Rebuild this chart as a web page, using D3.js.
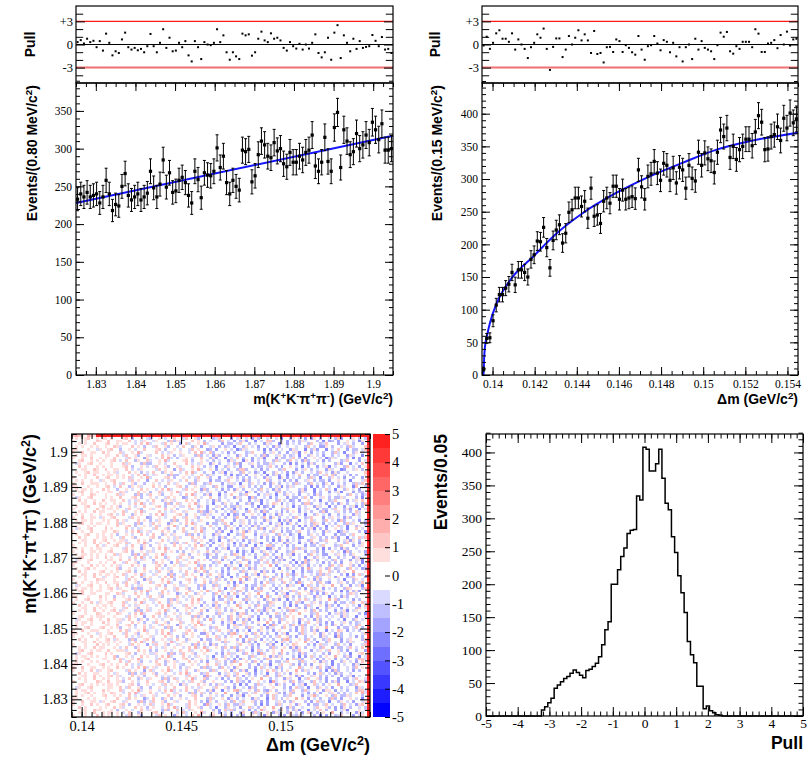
<!DOCTYPE html>
<html>
<head>
<meta charset="utf-8">
<script src="https://cdn.jsdelivr.net/npm/d3@7"></script>
<style>
  body { margin: 0; background: #fff; }
  .title { font-family: "Liberation Sans", Arial, sans-serif; font-weight: bold; }
  .tk text { font-family: "Liberation Serif", "Times New Roman", "DejaVu Serif", serif; }
</style>
</head>
<body>
<div id="chart"></div>
<script>
// ---- data ----
const massTicks = [1.83, 1.84, 1.85, 1.86, 1.87, 1.88, 1.89, 1.9];
const dmTicks = [0.14, 0.142, 0.144, 0.146, 0.148, 0.15, 0.152, 0.154];
const dmTicks2D = [0.14, 0.145, 0.15];
const countTicksTL = [0, 50, 100, 150, 200, 250, 300, 350];
const countTicks = [0, 50, 100, 150, 200, 250, 300, 350, 400];
const pullTicks = [-3, 0, 3];
const pullAxisTicks = [-5, -4, -3, -2, -1, 0, 1, 2, 3, 4, 5];
const zTicks = [-5, -4, -3, -2, -1, 0, 1, 2, 3, 4, 5];

// m(KKpipi) projection, 100 bins of 0.8 MeV from 1.825
const massCounts = [
  233, 240, 236, 242, 236, 238, 240, 228, 236, 258,
  240, 218, 226, 224, 250, 267, 238, 232, 236, 240,
  232, 236, 241, 270, 248, 236, 253, 285, 249, 268,
  242, 244, 258, 262, 255, 238, 228, 270, 259, 235,
  268, 265, 264, 270, 301, 275, 290, 255, 240, 258,
  250, 245, 298, 296, 299, 256, 264, 292, 310, 305,
  290, 288, 308, 297, 300, 280, 276, 295, 282, 282,
  290, 285, 295, 298, 318, 277, 270, 282, 315, 283,
  270, 328, 348, 275, 325, 310, 292, 296, 320, 300,
  305, 318, 308, 335, 325, 312, 333, 298, 298, 300
];
const massFitX = [1.825, 1.905];
const massFitY = [228, 317];
const massPull = [
  0.31, 0.57, 0.13, 0.75, 0.31, 0.48, -0.35, 0.44, -0.79, 1.41,
  0.22, -1.41, -0.88, -1.10, 0.66, 1.54, -0.35, -0.66, -0.44, -0.75,
  -0.57, -1.01, -0.22, 1.37, -0.22, -1.01, 0.22, 1.98, -0.44, 0.88,
  -0.88, -0.79, 0.22, -0.35, 0.44, -1.41, -2.20, 0.44, -0.35, -1.89,
  0.31, 0.00, -0.09, 0.22, 1.98, 0.31, 1.19, -1.01, -1.98, -1.01,
  -1.54, -1.89, 1.41, 1.19, 1.32, -1.45, -1.01, 0.75, 1.67, 0.53,
  0.31, 1.45, 0.75, 0.88, 0.53, -0.44, -0.79, 0.31, -0.22, -0.53,
  0.09, -0.66, 0.00, -0.53, 0.22, 1.32, -1.10, -1.67, -1.01, 0.88,
  -1.98, 1.54, 2.51, -1.76, 1.19, 0.22, -0.88, 0.75, -0.57, 0.44,
  -0.44, -0.31, -0.22, 1.23, 0.48, -0.22, 0.97, -0.66, -0.57, -1.10
];

// delta-m projection, 100 bins of 0.15 MeV from 0.1395
const dmCounts = [
  9, 56, 57, 83, 107, 123, 123, 133, 139, 157,
  138, 161, 161, 157, 150, 177, 184, 205, 204, 226,
  195, 164, 206, 222, 230, 202, 217, 249, 253, 271,
  271, 258, 266, 240, 286, 243, 245, 232, 266, 271,
  263, 289, 289, 269, 283, 269, 271, 273, 270, 314,
  288, 269, 304, 308, 327, 309, 298, 324, 321, 298,
  317, 294, 318, 314, 286, 321, 301, 297, 341, 321,
  340, 331, 328, 310, 341, 375, 365, 378, 333, 350,
  330, 345, 350, 361, 361, 351, 372, 397, 387, 345,
  346, 365, 368, 380, 359, 393, 378, 401, 386, 392
];
const dmFitX = [0.13957, 0.1396, 0.13964, 0.13975, 0.13988, 0.1402, 0.14083, 0.14192,
  0.14305, 0.14429, 0.14589, 0.14747, 0.14904, 0.15064, 0.15222, 0.1545];
const dmFitY = [0, 25, 43, 62, 80, 110, 145, 181, 217, 248, 279, 304, 325, 345, 358, 371];
const dmPull = [
  -0.13, 1.01, -0.57, 0.22, 1.45, 1.85, 0.75, 0.75, 0.35, 1.45,
  -0.66, 0.66, 0.00, -0.57, -1.76, -0.35, 0.22, 1.32, 0.88, 2.07,
  -0.57, -3.30, -0.31, 0.79, 0.79, -1.63, -0.66, 1.10, 0.00, 0.88,
  1.85, 0.53, 1.32, 0.53, -1.10, 1.76, -1.23, -1.10, -2.33, -0.35,
  -0.31, -0.97, 0.66, 0.44, -0.97, -0.09, -0.44, -1.01, -1.32, 1.10,
  -0.66, -1.98, -0.22, -0.09, 1.10, 0.13, -0.75, 0.57, 0.35, -1.01,
  0.22, -1.54, -0.35, -2.20, -0.35, 0.00, -1.89, 0.75, -0.66, 0.44,
  -0.44, -0.66, -0.88, -1.89, -0.09, 1.54, 1.01, 1.63, -0.88, -1.19,
  -0.22, -0.57, 0.35, 0.35, 0.35, -0.35, 1.98, 1.41, -0.97, -0.97,
  0.13, 0.22, 0.57, -0.48, 1.23, 0.00, 1.67, -0.13, 0.66, 0.75
];

// pull distribution, bins of 0.1 starting at -3.2
const histFirst = -3.2;
const histCounts = [
  9, 14, 20, 27, 42, 47, 52, 57, 60, 65,
  70, 66, 62, 58, 69, 71, 75, 80, 90, 108,
  131, 143, 200, 200, 222, 242, 255, 277, 282, 283,
  334, 328, 408, 405, 372, 372, 383, 405, 361, 323,
  313, 272, 248, 213, 187, 157, 113, 93, 81, 45,
  45, 11, 15, 8, 5, 2, 1
];

// 2D pull map. Cell codes: '0' = |pull|<0.5, '1'..'9' = +0.5 steps, 'a'..'i' = -0.5 steps.
// Texture pieces and the hand-picked sequence of pieces for every row (top row first).
const heatWords = {
  L1: "0100120", L2: "10020011", L3: "001010020", L4: "1001002", L5: "01011010", L6: "100010002",
  L7: "0020100", L8: "01010010", L9: "001200101", L10: "1100010", L11: "00011002", L12: "0a1001200",
  P1: "0a2001b00", P2: "100a0203a0", P3: "00120b0010a", P4: "a0200b10", P5: "0020a0a100",
  P6: "1a0002010b0", P7: "00a20100c", P8: "b0010a0020", P9: "02a00103a00", P10: "a1000b2b",
  B1: "0b1c00d0a02", B2: "c00a10b0b", B3: "00ba2000c0a1", B4: "b0c0010a0d", B5: "c10b00a0b2",
  B6: "0b0a00c1a00d", B7: "a00b20a0c", B8: "10c0a0b00b2", B9: "0a0c1b00a00", B10: "b1a000b0d0c",
  B11: "00c0bb0a20", B12: "a0d00b10a0c0", B13: "2b00a0c0b0", B14: "0b00c0a1d0",
  Q1: "02a0b010030", Q2: "1000b0c02a", Q3: "0a2001b0c0", Q4: "3a0010b20b", Q5: "00b2a0010c1"
};
const heatTop = "2321032199999999999999999999999999999999999999999999999999999999999999999999999999999999999999999999";
const heatRows = [
  "L1 L5 P3 P8 P1 B3 B9 B12 B5 B2", "L6 L2 P5 P10 P6 B7 B1 B13 B10 B4", "L3 L9 P2 P7 P9 B11 B6 B8 B3 B14",
  "L8 L4 P6 P1 P4 B2 B12 B9 B7 B5", "L10 L12 P8 P3 P7 B4 B10 B6 B1 B11", "L2 L7 P9 P5 P2 B13 B3 B14 B8 B12",
  "L5 L11 P1 P6 P10 B9 B5 B2 B12 B6", "L4 L3 P7 P2 P8 B1 B14 B11 B4 B10", "L9 L1 P4 P9 P3 B6 B8 B7 B13 B3",
  "L12 L6 P10 P8 P5 B5 B2 B10 B9 B1", "L7 L8 P3 P1 P6 B12 B11 B4 B14 B7", "L11 L2 P5 P7 P9 B8 B13 B3 B6 B2",
  "L1 L10 P6 P4 P2 B14 B7 B12 B5 B9", "L3 L5 P2 P10 P8 B10 B4 B1 B11 B13", "L6 L9 P9 P3 P1 B2 B6 B8 B12 B14",
  "L8 L12 P7 P5 P4 B11 B9 B13 B2 B4", "L2 L4 P1 P8 P10 B3 B12 B5 B7 B8", "L10 L1 P4 P6 P3 B7 B2 B14 B10 B6",
  "L5 L7 P8 P2 P7 B13 B5 B9 B1 B12", "L9 L11 P6 P9 P5 B4 B8 B6 B14 B11", "L4 L6 P10 P1 P2 B1 B3 B12 B9 B7",
  "L12 L3 P3 P7 P8 B6 B13 B11 B2 B10", "L7 L2 P5 P4 P6 B9 B14 B7 B4 B3", "L11 L8 P2 P10 P9 B12 B1 B8 B13 B5",
  "L1 L9 P8 P3 P4 B2 B10 B4 B6 B14", "L6 L5 P1 P6 P7 B14 B12 B3 B11 B1", "L3 L10 P9 P5 P10 B5 B7 B13 B8 B2",
  "L8 L1 P4 P2 P3 B10 B4 B9 B12 B6", "L2 L12 P7 P8 P1 B8 B11 B5 B3 B9", "L5 L3 P6 P10 P5 B3 B6 B1 B7 B13",
  "L9 L4 P10 P7 P2 B11 B2 B14 B5 B8", "L10 L6 P3 P9 P8 B7 B9 B10 B1 B12", "L12 L7 P5 P1 P4 B13 B8 B2 B14 B4",
  "L4 L11 P2 P6 P9 B1 B5 B11 B6 B10", "L1 L8 P8 P4 P10 B6 B3 B7 B12 B11", "L7 L5 P1 P3 P6 B9 B13 B4 B2 B1",
  "L11 L9 P6 P5 P7 B12 B10 B8 B3 B5", "L3 L2 P9 P10 P1 B4 B14 B6 B9 B7", "L6 L12 P4 P8 P2 B2 B1 B13 B11 B3",
  "L8 L10 P7 P2 P5 B14 B6 B5 B10 B9", "L2 L1 P3 P6 P8 B10 B12 B3 B4 B13", "L5 L4 P10 P9 P3 B5 B8 B14 B7 B2",
  "L9 L7 P2 P4 P1 B11 B3 B9 B12 B6", "L12 L11 P5 P8 P6 B8 B7 B1 B5 B14", "L10 L3 P1 P7 P9 B3 B11 B10 B13 B4",
  "L4 L8 P6 P3 P10 B6 Q1 B2 B8 Q3", "L1 L6 P8 P5 P2 Q2 B9 B12 Q4 B7", "L7 L9 P3 P1 P4 B13 Q5 B4 B11 Q1",
  "L11 L5 P9 P10 P7 Q3 B14 Q2 B5 B10", "L3 L12 P4 P2 P6 B1 Q4 B8 Q5 B3", "L6 L10 P7 P6 P3 Q1 B5 Q3 B9 B12",
  "L8 L2 P1 P9 P8 B10 Q2 B7 Q4 B2", "L12 L4 P5 P3 P10 Q5 B11 B6 Q1 B14", "L5 L1 P10 P8 P1 B4 Q3 B13 Q2 B8",
  "L9 L6 P2 P5 P9 Q4 B3 Q5 B10 B1", "L2 L11 P6 P7 P4 B7 Q1 B14 Q3 B5", "L10 L7 P8 P1 P5 Q2 B12 Q4 B6 B9",
  "L1 L3 P3 P10 P2 B11 Q5 B1 Q1 B13", "L4 L12 P9 P4 P6 Q3 B8 Q2 B2 B11", "L7 L5 P5 P2 P7 B9 Q4 B10 Q5 B4",
  "L11 L8 P1 P6 P3 Q1 B6 Q3 B12 B7", "L3 L1 P10 P9 P8 B2 Q2 B5 Q4 B14", "L6 L4 P2 P3 P1 Q5 B13 Q1 B3 B10",
  "L9 L10 P7 P5 P10 B8 Q3 B11 Q2 B6", "L12 L2 P4 P8 P6 Q4 B1 Q5 B9 B12", "L5 L7 P6 P1 P9 B14 Q1 B4 Q3 B2",
  "L8 L11 P3 P7 P2 Q2 B10 Q4 B13 B5", "L1 L9 P8 P10 P5 B3 Q5 B7 Q1 B11", "L2 L6 P9 P4 P3 Q3 B12 Q2 B1 B8",
  "L10 L12 P1 P2 P7 B5 Q4 B14 Q5 B9", "L4 L3 P5 P6 P8 Q1 B2 Q3 B6 B13", "L7 L1 P10 P3 P4 B11 Q2 B8 Q4 B3",
  "L11 L5 P2 P9 P6 Q5 B4 Q1 B12 B10", "L6 L8 P7 P1 P10 B9 Q3 B1 Q2 B7", "L3 L10 P4 P5 P2 Q4 B13 Q5 B5 B11",
  "L9 L2 P6 P8 P9 B6 Q1 B3 Q3 B14", "L12 L7 P3 P10 P1 Q2 B7 Q4 B9 B4", "L5 L4 P8 P2 P5 B12 Q5 B10 Q1 B1",
  "L1 L11 P9 P7 P3 Q3 B5 Q2 B13 B8", "L8 L6 P1 P4 P6 B2 Q4 B11 Q5 B12", "L10 L9 P5 P3 P8 Q1 B14 Q3 B4 B6",
  "L2 L3 P2 P6 P10 B7 Q2 B9 Q4 B5", "L4 L12 P7 P9 P4 Q5 B1 Q1 B10 B13", "L7 L10 P10 P1 P2 B3 Q3 B12 Q2 B9",
  "L11 L1 P6 P5 P7 Q4 B8 Q5 B2 B14", "L3 L8 P4 P10 P9 B13 Q1 B6 Q3 B11", "L6 L2 P8 P3 P1 Q2 B4 Q4 B7 B1",
  "L9 L5 P3 P7 P6 B10 Q5 B14 Q1 B3", "L12 L11 P1 P8 P5 Q3 B9 Q2 B12 B6", "L5 L7 P9 P2 P4 B1 Q4 B5 Q5 B8",
  "L1 L4 P2 P5 P10 Q1 B11 Q3 B13 B2", "L8 L9 P5 P6 P3 B14 Q2 B3 Q4 B10", "L10 L6 P7 P4 P8 Q5 B6 Q1 B8 B4",
  "L2 L12 P10 P1 P6 B5 Q3 B2 Q2 B12", "L4 L1 P3 P9 P7 Q4 B10 Q5 B11 B7", "L7 L3 P6 P2 P1 B12 Q1 B9 Q3 B5",
  "L11 L10 P8 P10 P5 Q2 B13 Q4 B1 B14", "L3 L5 P4 P3 P9 B8 Q5 B7 Q1 B6", "L6 L8 P1 P7 P2 Q3 B4 Q2 B10 B3"
];
const heatEdge = "9999899999999999989999999999999998999999999999999999899999999999999999999999989999999999999999999999";

// ---- layout ----
const W = 808, H = 758;
const serif = '"Liberation Serif", "Times New Roman", "DejaVu Serif", serif';
const svg = d3.select("#chart").append("svg").attr("width", W).attr("height", H)
  .style("background", "#fff");

function ticks(g, axisFn, scale, values, len, pos, fmt, pad, font) {
  const horiz = axisFn === d3.axisBottom || axisFn === d3.axisTop;
  const a = g.append("g").attr("class", "tk")
    .attr("transform", horiz ? `translate(0,${pos})` : `translate(${pos},0)`)
    .call(axisFn(scale).tickValues(values).tickSize(-len).tickPadding(pad || 3)
      .tickFormat(fmt || (() => "")));
  a.attr("font-family", serif).attr("font-size", font || 12);
  a.select(".domain").remove();
  a.selectAll("line").attr("stroke", "#000").attr("stroke-width", 1);
  a.selectAll("text").attr("fill", "#000").attr("font-family", serif);
  return a;
}

function box(g, x, y, o) {
  const [x0, x1] = x.range(), [y0, y1] = y.range();
  if (o.xMajor) {
    ticks(g, d3.axisBottom, x, o.xMinor, o.xLen * 0.5, y0);
    ticks(g, d3.axisBottom, x, o.xMajor, o.xLen, y0, o.xFmt, o.xPad, o.font);
    ticks(g, d3.axisTop, x, o.xMinor, o.xLen * 0.5, y1);
    ticks(g, d3.axisTop, x, o.xMajor, o.xLen, y1);
  }
  ticks(g, d3.axisLeft, y, o.yMinor, o.yLen * (o.yMinorFrac || 0.5), x0);
  ticks(g, d3.axisLeft, y, o.yMajor, o.yLen, x0, o.yFmt, o.yPad, o.font);
  ticks(g, d3.axisRight, y, o.yMinor, o.yLen * (o.yMinorFrac || 0.5), x1);
  ticks(g, d3.axisRight, y, o.yMajor, o.yLen, x1);
  g.append("rect").attr("x", x0).attr("y", y1).attr("width", x1 - x0).attr("height", y0 - y1)
    .attr("fill", "none").attr("stroke", "#000").attr("stroke-width", 1.2);
}

// text with superscripts: segs = [[text, isSup], ...]
function rich(sel, segs) {
  let up = false;
  segs.forEach(([t, sup]) => {
    const ts = sel.append("tspan").text(t);
    if (sup && !up) { ts.attr("dy", "-0.5em").style("font-size", "70%"); up = true; }
    else if (sup) { ts.style("font-size", "70%"); }
    else if (up) { ts.attr("dy", "0.35em"); up = false; }
  });
  return sel;
}
const massTitle = [["m(K", 0], ["+", 1], ["K", 0], ["-", 1], ["\u03c0", 0], ["+", 1], ["\u03c0", 0], ["-", 1], [") (GeV/c", 0], ["2", 1], [")", 0]];
const dmTitle = [["\u0394m (GeV/c", 0], ["2", 1], [")", 0]];

function xTitle(g, segs, x, y, size) {
  rich(g.append("text").attr("class", "title").attr("x", x).attr("y", y)
    .attr("text-anchor", "end").style("font-size", size + "px"), segs);
}
function yTitle(g, segs, x, y, size, anchor) {
  rich(g.append("text").attr("class", "title")
    .attr("transform", `translate(${x},${y}) rotate(-90)`)
    .attr("text-anchor", anchor || "end").style("font-size", size + "px"), segs);
}

const step = (a, b, s) => d3.range(a, b + s / 2, s);
const fmtPull = d => (d > 0 ? "+" + d : String(d));

// ---- fit panel: pull pad on top, data pad below ----
function fitPanel(o) {
  const g = svg.append("g");
  const x = d3.scaleLinear().domain(o.xDomain).range([o.x0, o.x1]);
  const yp = d3.scaleLinear().domain([-5, 5]).range([o.ySplit, o.yTop]);
  const y = d3.scaleLinear().domain([0, o.yMax]).range([o.yBot, o.ySplit]);
  const bw = (o.xDomain[1] - o.xDomain[0]) / o.counts.length;
  const cx = i => x(o.xDomain[0] + bw * (i + 0.5));

  const gp = g.append("g");
  gp.append("line").attr("x1", o.x0).attr("x2", o.x1).attr("y1", yp(3)).attr("y2", yp(3))
    .attr("stroke", "#ff1a1a").attr("stroke-width", 1.2);
  gp.append("line").attr("x1", o.x0).attr("x2", o.x1).attr("y1", yp(-3)).attr("y2", yp(-3))
    .attr("stroke", "#ee7070").attr("stroke-width", 2);
  gp.append("line").attr("x1", o.x0).attr("x2", o.x1).attr("y1", yp(0)).attr("y2", yp(0))
    .attr("stroke", "#000").attr("stroke-width", 1);
  gp.selectAll("rect.p").data(o.pull).enter().append("rect").attr("class", "p")
    .attr("x", (d, i) => cx(i) - 1).attr("y", d => yp(d) - 1)
    .attr("width", 2).attr("height", 2).attr("fill", "#000");
  box(gp, x, yp, {
    yMajor: pullTicks, yMinor: [-4, -2, -1, 1, 2, 4], yLen: 9, yMinorFrac: 0.8,
    yFmt: fmtPull, yPad: 3, font: 12.5
  });
  yTitle(gp, [["Pull", 0]], o.titleX - 2, (o.yTop + o.ySplit) / 2, 14, "middle");

  const gd = g.append("g");
  const line = d3.line().x(d => x(d[0])).y(d => y(d[1])).curve(d3.curveMonotoneX);
  gd.append("path").datum(d3.zip(o.fitX, o.fitY)).attr("d", line)
    .attr("fill", "none").attr("stroke", "#1414ff").attr("stroke-width", 2);
  const pts = gd.selectAll("g.pt").data(o.counts).enter().append("g").attr("class", "pt");
  pts.append("line").attr("x1", (d, i) => cx(i)).attr("x2", (d, i) => cx(i))
    .attr("y1", d => y(d + Math.sqrt(d))).attr("y2", d => y(Math.max(0, d - Math.sqrt(d))))
    .attr("stroke", "#000").attr("stroke-width", 1);
  [1, -1].forEach(s => {
    pts.append("line").attr("x1", (d, i) => cx(i) - 1.5).attr("x2", (d, i) => cx(i) + 1.5)
      .attr("y1", d => y(Math.max(0, d + s * Math.sqrt(d))))
      .attr("y2", d => y(Math.max(0, d + s * Math.sqrt(d))))
      .attr("stroke", "#000").attr("stroke-width", 1);
  });
  pts.append("rect").attr("x", (d, i) => cx(i) - 1.6).attr("y", d => y(d) - 1.6)
    .attr("width", 3.2).attr("height", 3.2).attr("fill", "#000");
  box(gd, x, y, {
    xMajor: o.xTicks, xMinor: o.xMinor, xLen: 8, xFmt: String, xPad: 5,
    yMajor: o.yTicks, yMinor: step(0, o.yMax, 10), yLen: 8, yFmt: String, yPad: 4, font: 11.5
  });
  yTitle(gd, o.yTitle, o.titleX, o.ySplit + 2, 14);
  xTitle(gd, o.xTitle, o.x1, 404, 14);
}

fitPanel({
  x0: 76, x1: 393, yTop: 6, ySplit: 83, yBot: 375, yMax: 387, titleX: 37,
  xDomain: [1.825, 1.905], xTicks: massTicks, xMinor: step(1.825, 1.905, 0.0025),
  yTicks: countTicksTL, counts: massCounts, pull: massPull, fitX: massFitX, fitY: massFitY,
  yTitle: [["Events/(0.80 MeV/c", 0], ["2", 1], [")", 0]], xTitle: massTitle
});
fitPanel({
  x0: 482, x1: 798, yTop: 6, ySplit: 83, yBot: 375, yMax: 447, titleX: 442,
  xDomain: [0.1395, 0.1545], xTicks: dmTicks, xMinor: step(0.1395, 0.1545, 0.0005),
  yTicks: countTicks, counts: dmCounts, pull: dmPull, fitX: dmFitX, fitY: dmFitY,
  yTitle: [["Events/(0.15 MeV/c", 0], ["2", 1], [")", 0]], xTitle: dmTitle
});

// ---- 2D pull map ----
(function () {
  const g = svg.append("g");
  const x = d3.scaleLinear().domain([0.1395, 0.1545]).range([71.7, 370]);
  const y = d3.scaleLinear().domain([1.825, 1.905]).range([717, 434]);
  const nx = 100;
  const rows = [heatTop].concat(heatRows.map(spec => {
    let s = spec.split(" ").map(k => heatWords[k]).join("");
    while (s.length < nx - 1) s += s.slice(16);
    return s;
  }));
  const ny = rows.length;
  const dx = 0.015 / nx, dy = 0.08 / ny;

  const bandColor = i => {
    if (i >= 10) {
      const k = i - 10;
      return k === 0 ? "#ffffff" : d3.interpolateRgb("#ffffff", "#ff1414")(0.04 + 0.101 * k);
    }
    const k = 9 - i;
    return k === 0 ? "#ffffff" : d3.interpolateRgb("#ffffff", "#0000ff")(0.04 + 0.106 * k);
  };
  const color = d3.scaleThreshold().domain(step(-4.5, 4.5, 0.5)).range(d3.range(20).map(bandColor));
  const level = ch => {
    if (ch === "0") return 0.2;
    if (ch >= "1" && ch <= "9") return 0.25 + 0.5 * (+ch);
    return -(0.25 + 0.5 * (ch.charCodeAt(0) - 96));
  };

  const cells = [];
  rows.forEach((row, r) => {
    for (let c = 0; c < nx; c++) {
      const ch = c === nx - 1 ? heatEdge[r] : (row[c] || "0");
      cells.push({ r, c, v: level(ch) });
    }
  });
  g.append("g").attr("shape-rendering", "crispEdges").selectAll("rect").data(cells).enter().append("rect")
    .attr("x", d => x(0.1395 + d.c * dx))
    .attr("y", d => y(1.825 + (ny - d.r) * dy))
    .attr("width", x(0.1395 + dx) - x(0.1395) + 0.4)
    .attr("height", y(1.825) - y(1.825 + dy) + 0.4)
    .attr("fill", d => color(d.v));

  box(g, x, y, {
    xMajor: dmTicks2D, xMinor: step(0.1395, 0.1545, 0.0005), xLen: 10, xFmt: String, xPad: 4,
    yMajor: massTicks, yMinor: step(1.825, 1.905, 0.002), yLen: 10, yFmt: String, yPad: 4, font: 14.5
  });

  // colour bar
  const z = d3.scaleLinear().domain([-5, 5]).range([717, 434]);
  const bands = step(-5, 4.5, 0.5);
  g.append("g").attr("shape-rendering", "crispEdges").selectAll("rect").data(bands).enter().append("rect")
    .attr("x", 372.5).attr("width", 17.5)
    .attr("y", d => z(d + 0.5)).attr("height", z(0) - z(0.5) + 0.3)
    .attr("fill", d => color(d + 0.25));
  const zax = g.append("g").attr("transform", "translate(390,0)")
    .call(d3.axisRight(z).tickValues(zTicks).tickSize(-5).tickPadding(2).tickFormat(String));
  zax.attr("font-family", serif).attr("font-size", 14.5);
  zax.select(".domain").remove();
  zax.selectAll("line").attr("stroke", "#000");
  zax.selectAll("text").attr("fill", "#000").attr("font-family", serif);

  yTitle(g, massTitle, 36, 434, 18);
  xTitle(g, dmTitle, 370, 751, 18);
})();

// ---- pull distribution ----
(function () {
  const g = svg.append("g");
  const x = d3.scaleLinear().domain([-5, 5]).range([486, 803]);
  const y = d3.scaleLinear().domain([0, 428]).range([716, 434]);
  const pts = [[-5, 0]];
  histCounts.forEach((c, i) => pts.push([histFirst + i * 0.1 - 0.05, c]));
  pts.push([histFirst + histCounts.length * 0.1 - 0.05, 0], [5, 0]);
  g.append("path").datum(pts)
    .attr("d", d3.line().x(d => x(d[0])).y(d => y(d[1])).curve(d3.curveStepAfter))
    .attr("fill", "none").attr("stroke", "#000").attr("stroke-width", 1.5);
  box(g, x, y, {
    xMajor: pullAxisTicks, xMinor: step(-5, 5, 0.2), xLen: 9, xFmt: String, xPad: 2,
    yMajor: countTicks, yMinor: step(0, 428, 10), yLen: 9, yFmt: String, yPad: 4, font: 13.5
  });
  yTitle(g, [["Events/0.05", 0]], 447, 434, 17.5);
  xTitle(g, [["Pull", 0]], 803, 749, 17.5);
})();
</script>
</body>
</html>
